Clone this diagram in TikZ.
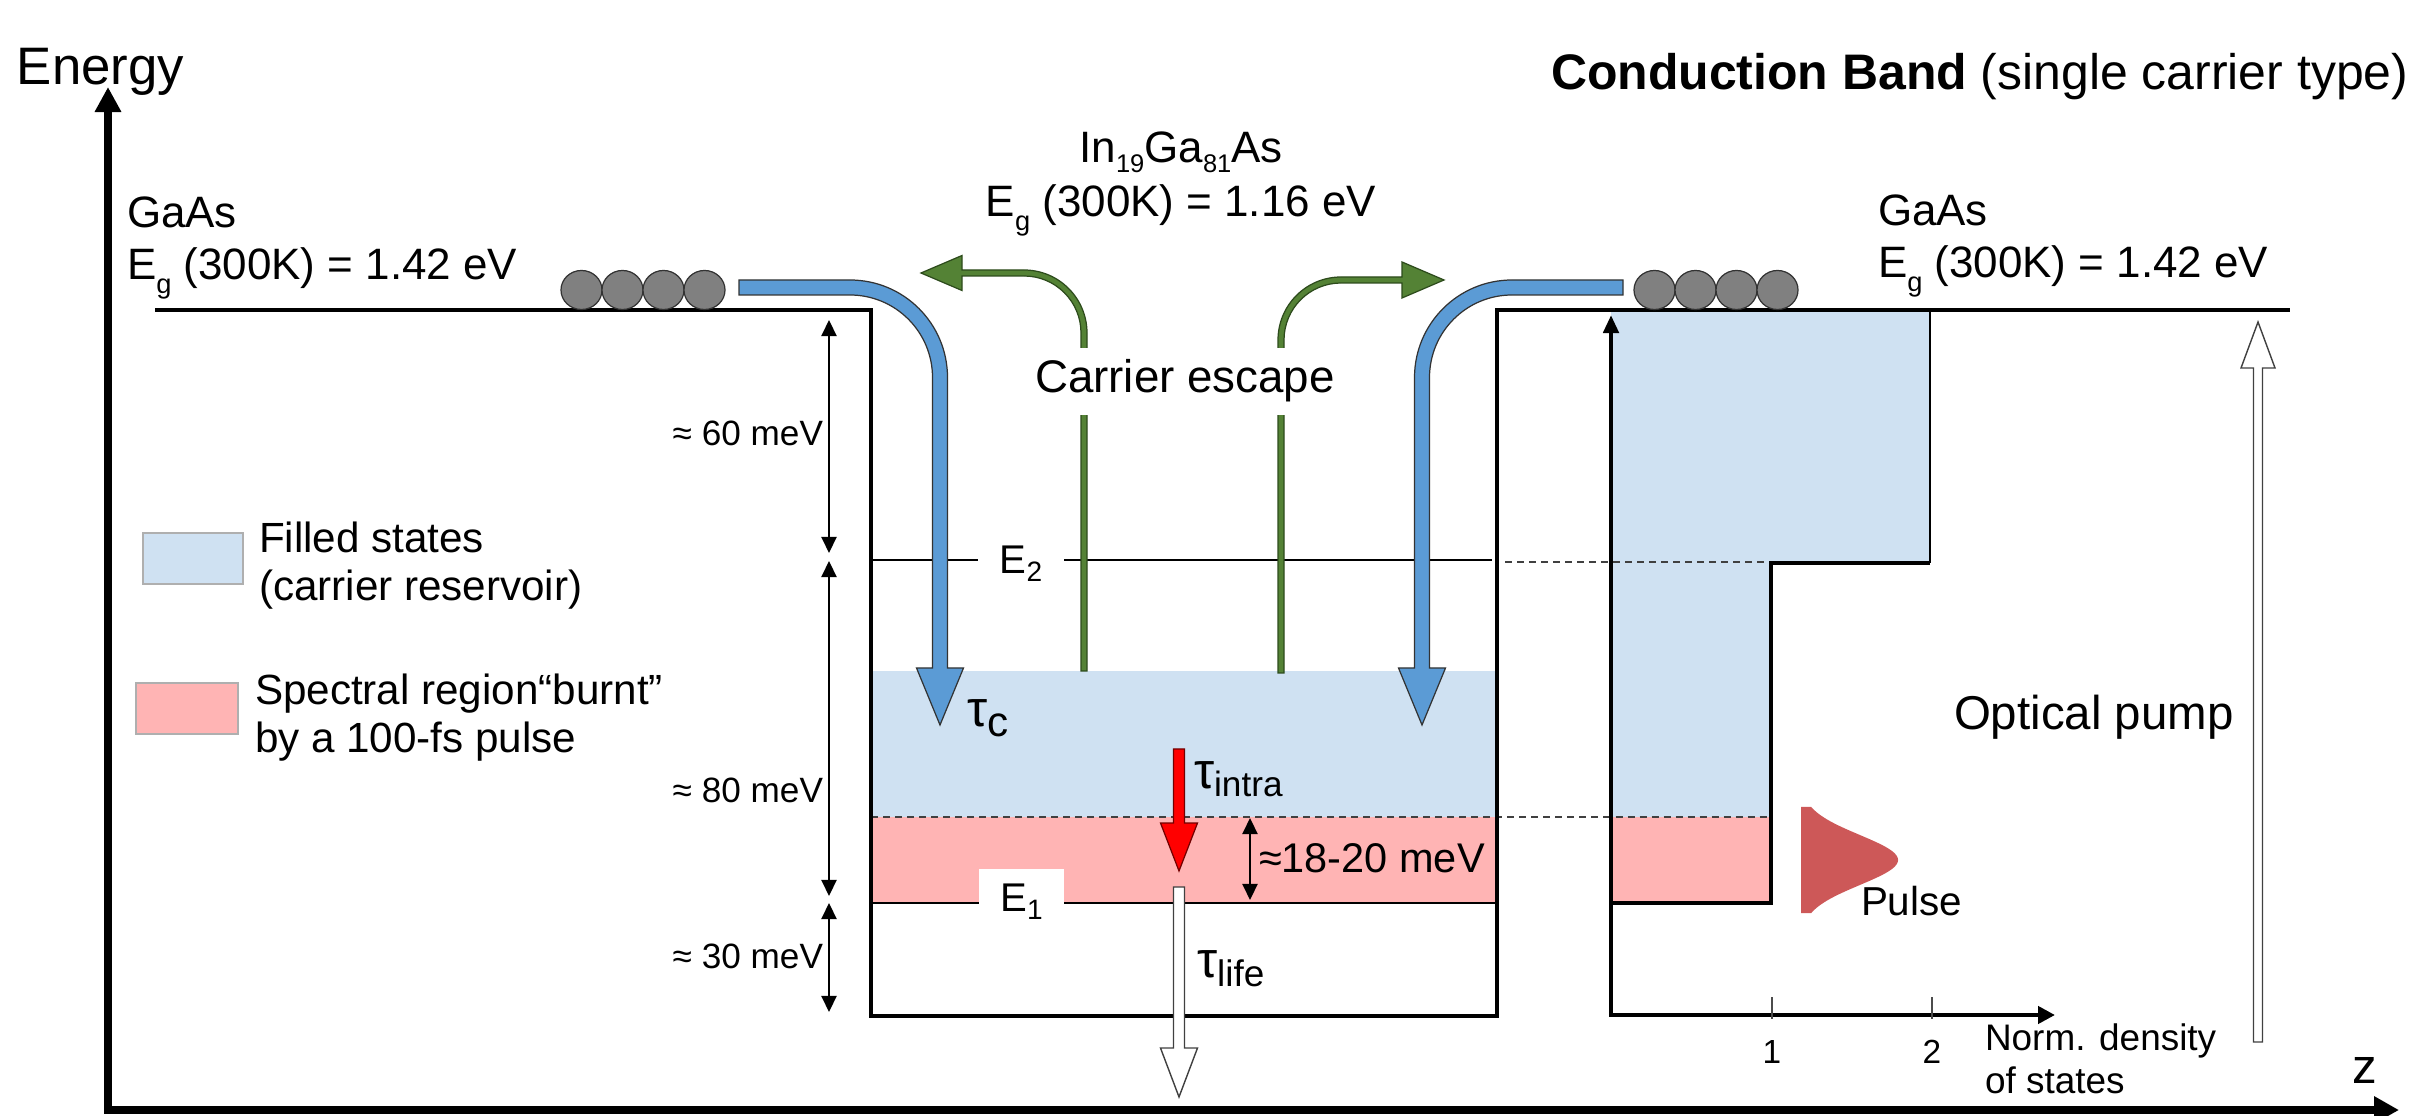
\documentclass[tikz,border=0pt]{standalone}
\usepackage{fontspec}
\setmainfont{Liberation Sans}
\usepackage{graphicx}
\usetikzlibrary{arrows.meta}
\definecolor{arrowblue}{RGB}{91,155,213}
\definecolor{fillblue}{RGB}{207,225,242}
\definecolor{burnpink}{RGB}{255,180,180}
\definecolor{escgreen}{RGB}{84,130,53}
\definecolor{escdark}{RGB}{45,75,28}
\definecolor{pulsered}{RGB}{205,88,88}
\definecolor{ballgray}{RGB}{128,128,128}
\definecolor{legedge}{RGB}{175,175,175}
\newcommand{\fsz}[1]{\fontsize{#1}{#1}\selectfont}
\newcommand{\subg}{\raisebox{-0.3em}{\scalebox{0.62}{g}}}
\newcommand{\lsub}[1]{\raisebox{-0.22em}{\scalebox{0.58}{#1}}}
\newcommand{\esub}[1]{\raisebox{-0.2em}{\scalebox{0.7}{#1}}}
\tikzset{
  lbl/.style={inner sep=0pt, outer sep=0pt},
  dimarrow/.style={line width=0.6pt, {Triangle[length=0.16cm,width=0.15cm]}-{Triangle[length=0.16cm,width=0.15cm]}},
  dashline/.style={line width=0.4pt, draw=black!75, dash pattern=on 0.07cm off 0.05cm},
  bluearr/.style={fill=arrowblue, draw=black!80, line width=0.35pt, line join=miter},
  greenarr/.style={fill=escgreen, draw=escdark, line width=0.35pt, line join=miter},
  redarr/.style={fill=red, draw=red!45!black, line width=0.35pt, line join=miter},
  hollowarr/.style={fill=white, draw=black!75, line width=0.4pt, line join=miter},
  ball/.style={fill=ballgray, draw=black!80, line width=0.35pt},
  legbox/.style={draw=legedge, line width=0.6pt},
}
\begin{document}
\begin{tikzpicture}[x=0.01cm, y=-0.01cm, font=\fsz{12.5}, every node/.style={inner sep=0pt, outer sep=0pt}]
\useasboundingbox (0,0) rectangle (2430,1116);

% ---- fills
\fill[fillblue] (871,671) rectangle (1497,817);
\fill[burnpink] (871,817) rectangle (1497,903);
\fill[fillblue] (1611,312) rectangle (1930,562);
\fill[fillblue] (1611,562) rectangle (1771,817);
\fill[burnpink] (1611,817) rectangle (1771,903);

% ---- subband levels and guides
\draw[line width=0.8pt] (871,560) -- (1492,560);
\draw[line width=0.8pt] (871,903) -- (1497,903);
\draw[dashline] (1505,562) -- (1771,562);
\draw[dashline] (871,817) -- (1771,817);

% ---- density of states staircase
\draw[line width=0.6pt] (1930,312) -- (1930,563);
\draw[line width=0.9pt, line join=miter] (1930,563) -- (1771,563) -- (1771,903) -- (1611,903);

% ---- band edge profile
\draw[line width=1.25pt, line join=miter] (155,310) -- (871,310) -- (871,1016) -- (1497,1016) -- (1497,310) -- (2290,310);

% ---- energy dimension arrows
\draw[dimarrow] (829,320) -- (829,553);
\draw[dimarrow] (829,561) -- (829,896);
\draw[dimarrow] (829,903) -- (829,1012);
\draw[dimarrow] (1250,818) -- (1250,900);

% ---- DOS axes
\draw[line width=1.3pt, line join=miter, {Triangle[length=0.18cm,width=0.15cm]}-{Triangle[length=0.17cm,width=0.17cm]}] (1611,315) -- (1611,1015) -- (2055,1015);
\draw[line width=0.3pt, black!70] (1772,997) -- (1772,1019);
\draw[line width=0.3pt, black!70] (1932,997) -- (1932,1019);

% ---- main axes
\draw[line width=2.3pt, line join=miter, {Triangle[length=0.25cm,width=0.25cm]}-{Triangle[length=0.25cm,width=0.26cm]}] (108,87) -- (108,1110) -- (2399,1110);

% ---- carriers
\foreach \x in {581.5,622.5,663.5,704.5,1654.5,1695.5,1736.5,1777.5}
  \draw[ball] (\x,290) ellipse [x radius=0.205cm, y radius=0.195cm];

% ---- capture arrows (blue)
\path[bluearr] (739,280) -- (850,280) .. controls (903.85,280) and (947.5,323.65) .. (947.5,377.5)
  -- (947.5,668) -- (963.5,668) -- (940,725) -- (916.5,668) -- (932.5,668) -- (932.5,377.5)
  .. controls (932.5,331.94) and (895.56,295) .. (850,295) -- (739,295) -- cycle;
\path[bluearr] (1623,280) -- (1512,280) .. controls (1458.15,280) and (1414.5,323.65) .. (1414.5,377.5)
  -- (1414.5,668) -- (1398.5,668) -- (1422,725) -- (1445.5,668) -- (1429.5,668) -- (1429.5,377.5)
  .. controls (1429.5,331.94) and (1466.44,295) .. (1512,295) -- (1623,295) -- cycle;

% ---- escape arrows (green)
\path[greenarr] (1087,671) -- (1087,333) .. controls (1087,298.2) and (1058.8,270) .. (1024,270)
  -- (962,270) -- (962,255.5) -- (921,273) -- (962,290.5) -- (962,276) -- (1024,276)
  .. controls (1055.5,276) and (1081,301.5) .. (1081,333) -- (1081,671) -- cycle;
\path[greenarr] (1278,673) -- (1278,340) .. controls (1278,305.2) and (1306.2,277) .. (1341,277)
  -- (1402,277) -- (1402,262) -- (1444,280) -- (1402,298) -- (1402,283) -- (1341,283)
  .. controls (1309.5,283) and (1284,308.5) .. (1284,340) -- (1284,673) -- cycle;

% ---- relaxation arrows
\path[redarr] (1173.5,749) -- (1184.5,749) -- (1184.5,823) -- (1197.5,823) -- (1179,871) -- (1160.5,823) -- (1173.5,823) -- cycle;
\path[hollowarr] (1173.5,887) -- (1184.5,887) -- (1184.5,1048) -- (1197.5,1048) -- (1179,1097) -- (1160.5,1048) -- (1173.5,1048) -- cycle;

% ---- optical pump arrow
\path[hollowarr] (2253.5,1042) -- (2262.5,1042) -- (2262.5,368) -- (2275,368) -- (2258,322) -- (2241,368) -- (2253.5,368) -- cycle;

% ---- pulse
\fill[pulsered] (1801,807) -- plot[domain=807:913, samples=80, variable=\t] ({1801+97*exp(-((\t-860)*(\t-860))/1250)},\t) -- (1801,913) -- cycle;

% ---- legend
\draw[legbox, fill=fillblue] (143,533) rectangle (243,584);
\draw[legbox, fill=burnpink] (136,683) rectangle (238,734);
\node[anchor=base west, font=\fsz{12}] (leg1a) at (259,553) {Filled states};
\node[anchor=base west, font=\fsz{12}] (leg1b) at (259,601) {(carrier reservoir)};
\node[anchor=base west, font=\fsz{12}] (leg2a) at (255,705) {Spectral region“burnt”};
\node[anchor=base west, font=\fsz{12}] (leg2b) at (255,752) {by a 100-fs pulse};

% ---- titles and material labels
\node[anchor=base west, font=\fsz{15}] (energy) at (17,85) {Energy};
\node[anchor=base west, font=\fsz{14.2}] (cb) at (1551,90) {\textbf{Conduction Band} (single carrier type)};
\node[anchor=base west] (gaasL) at (127,228) {GaAs};
\node[anchor=base west] (egL) at (127,280) {E\subg{} (300K) = 1.42 eV};
\node[anchor=base west] (gaasR) at (1878,226) {GaAs};
\node[anchor=base west] (egR) at (1878,278) {E\subg{} (300K) = 1.42 eV};
\node[anchor=base] (ingaas) at (1181,163) {In\lsub{19}Ga\lsub{81}As};
\node[anchor=base] (egQW) at (1181,217) {E\subg{} (300K) = 1.16 eV};
\node[anchor=base, fill=white, inner xsep=2pt, inner ysep=3.5pt, font=\fsz{13}] (escape) at (1185,393) {Carrier escape};

% ---- level labels
\node[fill=white, minimum width=0.86cm, minimum height=0.5cm, font=\fsz{11.4}] (e2) at (1021,564) {E\esub{2}};
\node[fill=white, anchor=north, minimum width=0.85cm, minimum height=0.66cm, font=\fsz{11.4}] (e1) at (1021.5,869) {E\esub{1}};

% ---- dimension labels
\node[anchor=base east, font=\fsz{10}] (d60) at (823,446) {≈ 60 meV};
\node[anchor=base east, font=\fsz{10}] (d80) at (823,802) {≈ 80 meV};
\node[anchor=base east, font=\fsz{10}] (d30) at (823,968) {≈ 30 meV};
\node[anchor=base west, font=\fsz{11.8}] (d18) at (1259,872) {≈18-20 meV};

% ---- time constants
\node[anchor=base west] (tauc) at (967,727) {\fsz{14.5}τ\raisebox{-2.8pt}{\fsz{12}c}};
\node[anchor=base west] (tauintra) at (1194,788) {\fsz{14.5}τ\raisebox{-2.5pt}{\fsz{10}intra}};
\node[anchor=base west] (taulife) at (1197,977) {\fsz{14.5}τ\raisebox{-2.8pt}{\fsz{10.5}life}};

% ---- DOS labels
\node[anchor=base west, font=\fsz{11.5}] (pulse) at (1861,915) {Pulse};
\node[anchor=base west, font=\fsz{13.5}] (pump) at (1954,730) {Optical pump};
\node[anchor=base, font=\fsz{9.5}] (t1) at (1772,1063) {1};
\node[anchor=base, font=\fsz{9.5}] (t2) at (1932,1063) {2};
\node[anchor=base west, font=\fsz{10.5}] (dos1) at (1985,1050) {Norm. density};
\node[anchor=base west, font=\fsz{10.5}] (dos2) at (1985,1093) {of states};
\node[anchor=base west, font=\fsz{14}] (zlab) at (2352,1083) {z};
\end{tikzpicture}
\end{document}
